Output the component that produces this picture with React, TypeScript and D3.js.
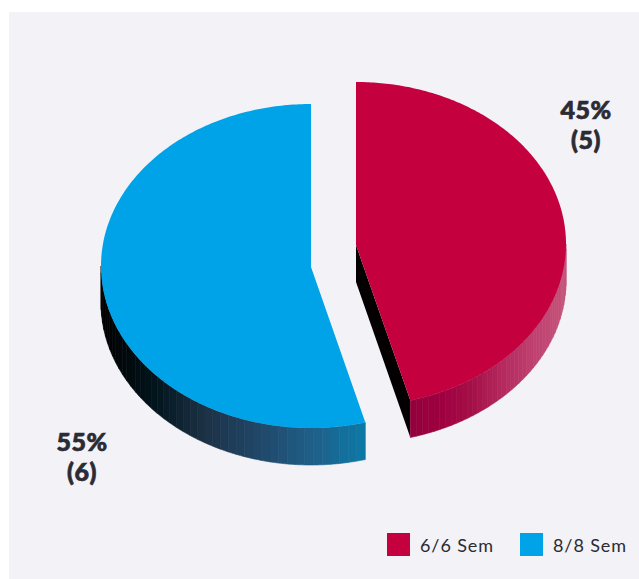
import React from "react";
import * as d3 from "d3";

const categories = ["6/6 Sem", "8/8 Sem"];
const counts = [5, 6];
const percentLabels = ["45%", "55%"];
const countLabels = ["(5)", "(6)"];
const topColors = ["#C4003F", "#00A3E8"];

// Side-wall shading, sampled left to right across each slice's rim.
const redWallStops = ["#93003a", "#9f0040", "#a51048", "#b52a5f", "#bf4270", "#c65379"];
const blueWallStops = ["#000000", "#02141c", "#1c3247", "#20486a", "#1f5f88", "#0b7aa8"];

const WIDTH = 639;
const HEIGHT = 579;
const RX = 210;
const RY = 162;
const DEPTH = 37;

// Offset of each slice's pie centre once the two have been pulled apart.
const centres = [
  { x: 356, y: 244 },
  { x: 311, y: 266 },
];
const apexDrop = [1, 1];

const FONT = "Lato, sans-serif";
const TAU = Math.PI * 2;

// The pie is tilted in view, which shifts the seam a little on screen.
const seamView = (165 / 360) * TAU;

function Slice({ index, arc }: { index: number; arc: d3.PieArcDatum<number> }) {
  const c = centres[index];
  const seamData = (counts[0] / d3.sum(counts)) * TAU;
  const warp = d3.scaleLinear().domain([0, seamData, TAU]).range([0, seamView, TAU]);
  // Red runs clockwise from the top, blue closes the circle back to the top.
  const a0 = warp(arc.startAngle);
  const a1 = warp(arc.endAngle);
  const px = (a: number) => c.x + RX * Math.sin(a);
  const py = (a: number) => c.y - RY * Math.cos(a);
  const apex: [number, number] = [c.x, c.y + apexDrop[index]];

  const line = d3.line<[number, number]>();
  const angles = d3.range(0, 241).map((i) => a0 + ((a1 - a0) * i) / 240);
  const topPath = line([apex, ...angles.map((a): [number, number] => [px(a), py(a)])])!;

  // Only the part of the rim on the lower half of the ellipse shows a wall.
  const wallA0 = Math.max(a0, Math.PI / 2);
  const wallA1 = Math.min(a1, (Math.PI * 3) / 2);
  const bands = 44;
  const stops = index === 0 ? redWallStops : blueWallStops;
  const xs = [px(wallA0), px(wallA1)];
  const shade = d3
    .scaleLinear<string>()
    .domain(stops.map((_, i) => d3.min(xs)! + ((d3.max(xs)! - d3.min(xs)!) * i) / (stops.length - 1)))
    .range(stops);

  const strips = d3.range(bands).map((i) => {
    const s0 = wallA0 + ((wallA1 - wallA0) * i) / bands;
    const s1 = wallA0 + ((wallA1 - wallA0) * (i + 1)) / bands;
    const steps = d3.range(0, 5).map((k) => s0 + ((s1 - s0) * k) / 4);
    const upper = steps.map((a): [number, number] => [px(a), py(a)]);
    const lower = [...steps].reverse().map((a): [number, number] => [px(a), py(a) + DEPTH]);
    return { d: line([...upper, ...lower])! + "Z", fill: shade(px((s0 + s1) / 2)) };
  });

  // The cut face visible below the red slice's straight left edge.
  const tip: [number, number] = [px(a1), py(a1)];
  const cutFace =
    index === 0
      ? line([apex, tip, [tip[0], tip[1] + DEPTH], [apex[0], apex[1] + DEPTH]])! + "Z"
      : null;

  return (
    <g>
      {cutFace && <path d={cutFace} fill="#040002" />}
      {strips.map((s, i) => (
        <path key={i} d={s.d} fill={s.fill} stroke={s.fill} strokeWidth={0.6} />
      ))}
      <path d={topPath + "Z"} fill={topColors[index]} />
    </g>
  );
}

export default function App() {
  const arcs = d3
    .pie<number>()
    .sort(null)
    .startAngle(0)
    .endAngle(TAU)(counts);

  const labelPositions = [
    { x: 586, y: 119 },
    { x: 82, y: 451 },
  ];
  const legendX = [387, 520];

  return (
    <svg
      width={WIDTH}
      height={HEIGHT}
      style={{ position: "absolute", left: 0, top: 0, background: "#ffffff" }}
    >
      <rect x={9} y={12} width={WIDTH - 9} height={HEIGHT - 12} fill="#F2F2F7" />
      {arcs.map((a, i) => (
        <Slice key={i} index={i} arc={a} />
      ))}
      {percentLabels.map((p, i) => (
        <g
          key={p}
          fontFamily={FONT}
          fontWeight={900}
          fontSize={25}
          letterSpacing={0.5}
          fill="#2b2b33"
          stroke="#2b2b33"
          strokeWidth={0.7}
          textAnchor="middle"
        >
          <text x={labelPositions[i].x} y={labelPositions[i].y}>
            {p}
          </text>
          <text x={labelPositions[i].x} y={labelPositions[i].y + 30}>
            {countLabels[i]}
          </text>
        </g>
      ))}
      {categories.map((name, i) => (
        <g key={name}>
          <rect x={legendX[i]} y={533} width={23} height={23} fill={topColors[i]} />
          <text
            x={legendX[i] + 33}
            y={551.5}
            fontFamily={FONT}
            fontSize={18}
            letterSpacing={0.9}
            fill="#2b2b33"
          >
            {name}
          </text>
        </g>
      ))}
    </svg>
  );
}
